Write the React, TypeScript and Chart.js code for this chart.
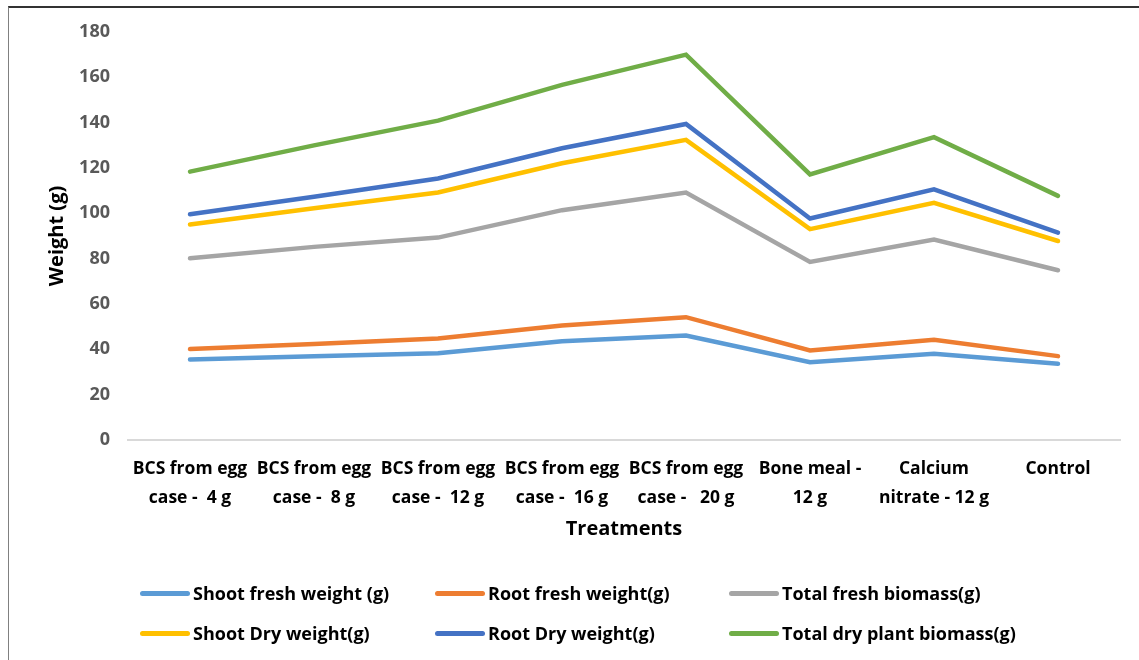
import React, { useEffect, useRef } from "react";
import { Chart, registerables } from "chart.js";

Chart.register(...registerables);

const categories: string[][] = [
  ["BCS from egg", "case -  4 g"],
  ["BCS from egg", "case -  8 g"],
  ["BCS from egg", "case -  12 g"],
  ["BCS from egg", "case -  16 g"],
  ["BCS from egg", "case -   20 g"],
  ["Bone meal -", "12 g"],
  ["Calcium", "nitrate - 12 g"],
  ["Control", ""],
];

const shootFresh = [35.5, 37.0, 38.3, 43.6, 46.1, 34.3, 38.0, 33.6];
const rootFresh = [40.1, 42.4, 44.8, 50.5, 54.2, 39.5, 44.2, 37.0];
const totalFresh = [80.2, 85.2, 89.3, 101.4, 109.2, 78.6, 88.4, 74.9];
const shootDry = [95.1, 102.2, 109.2, 122.1, 132.4, 93.0, 104.6, 87.8];
const rootDry = [99.6, 107.3, 115.4, 128.7, 139.4, 97.7, 110.6, 91.5];
const totalDry = [118.4, 130.0, 140.9, 156.7, 170.0, 117.2, 133.6, 107.7];

const seriesNames = [
  "Shoot fresh weight (g)",
  "Root fresh weight(g)",
  "Total fresh biomass(g)",
  "Shoot Dry weight(g)",
  "Root Dry weight(g)",
  "Total dry plant biomass(g)",
];
const seriesValues = [shootFresh, rootFresh, totalFresh, shootDry, rootDry, totalDry];
const seriesColors = ["#5B9BD5", "#ED7D31", "#A5A5A5", "#FFC000", "#4472C4", "#70AD47"];

const yTicks = { min: 0, max: 180, step: 20 };
const yTitle = "Weight (g)";
const xTitle = "Treatments";

const FONT = "'Open Sans', 'DejaVu Sans', sans-serif";

export default function App() {
  const ref = useRef<HTMLCanvasElement | null>(null);

  useEffect(() => {
    if (!ref.current) return;
    const chart = new Chart(ref.current, {
      type: "line",
      data: {
        labels: categories,
        datasets: seriesNames.map((name, i) => ({
          label: name,
          data: seriesValues[i],
          borderColor: seriesColors[i],
          backgroundColor: seriesColors[i],
          borderWidth: 4.5,
          borderCapStyle: "round" as const,
          borderJoinStyle: "miter" as const,
          pointRadius: 0,
          tension: 0,
          fill: false,
        })),
      },
      options: {
        responsive: false,
        animation: false,
        layout: { padding: { left: 0, right: 19, top: 32, bottom: 100 } },
        plugins: { legend: { display: false }, tooltip: { enabled: false } },
        scales: {
          x: {
            type: "category",
            offset: true,
            grid: { display: false, drawTicks: false },
            border: { display: true, color: "#d9d9d9", width: 2 },
            ticks: {
              autoSkip: false,
              maxRotation: 0,
              minRotation: 0,
              padding: 14,
              color: "#000000",
              font: { family: FONT, size: 17.5, weight: "bold", lineHeight: 1.66 },
            },
            title: {
              display: true,
              text: xTitle,
              color: "#000000",
              font: { family: FONT, size: 20, weight: "bold" },
              padding: { top: 0, bottom: 19 },
            },
            afterFit: (scale: any) => {
              scale.height = 120;
            },
          },
          y: {
            min: yTicks.min,
            max: yTicks.max,
            grid: { display: false, drawTicks: false },
            border: { display: false },
            ticks: {
              stepSize: yTicks.step,
              padding: 18,
              color: "#595959",
              font: { family: FONT, size: 18, weight: "bold" },
            },
            title: {
              display: true,
              text: yTitle,
              color: "#000000",
              font: { family: FONT, size: 20, weight: "bold" },
              padding: { top: 45, bottom: 0 },
            },
            afterFit: (scale: any) => {
              scale.width = 128;
            },
          },
        },
      },
    });
    return () => chart.destroy();
  }, []);

  const legendCols = [140, 435, 729];
  const legendRows = [593, 633];

  return (
    <div
      style={{
        position: "fixed",
        left: 0,
        top: 0,
        width: 1139,
        height: 660,
        background: "#ffffff",
        overflow: "hidden",
      }}
    >
      <canvas ref={ref} width={1139} height={660} style={{ position: "absolute", left: 0, top: 0 }} />
      <div
        style={{
          position: "absolute",
          left: 8,
          top: 6,
          right: 0,
          bottom: 0,
          borderTop: "2px solid #333333",
          borderLeft: "1.5px solid #808080",
          pointerEvents: "none",
        }}
      />
      {seriesNames.map((name, i) => {
        const col = i % 3;
        const row = Math.floor(i / 3);
        return (
          <div
            key={name}
            style={{
              position: "absolute",
              left: legendCols[col],
              top: legendRows[row] - 14,
              height: 28,
              display: "flex",
              alignItems: "center",
              whiteSpace: "nowrap",
            }}
          >
            <span
              style={{
                display: "inline-block",
                width: 50,
                height: 5,
                borderRadius: 3,
                background: seriesColors[i],
                marginRight: 3,
              }}
            />
            <span
              style={{
                fontFamily: FONT,
                fontWeight: 700,
                fontSize: 18,
                color: "#000000",
              }}
            >
              {name}
            </span>
          </div>
        );
      })}
    </div>
  );
}
